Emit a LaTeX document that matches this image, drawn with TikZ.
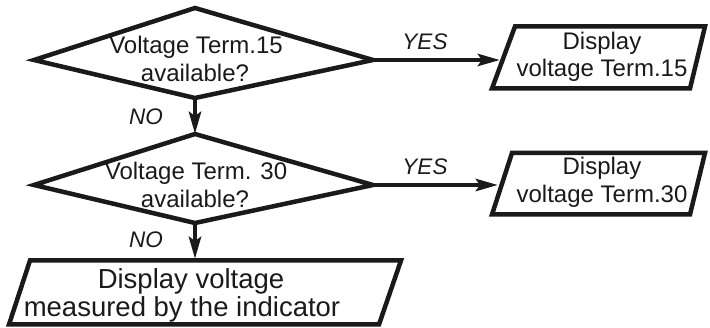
\documentclass[tikz,border=0pt]{standalone}
\usepackage{fontspec}
\setmainfont{Liberation Sans}
\usetikzlibrary{arrows.meta}
\definecolor{ink}{HTML}{1A1A1A}
\begin{document}
\begin{tikzpicture}[x=1pt,y=-1pt,
  outline/.style={line width=4.5pt, draw=ink, line join=miter},
  flow/.style={line width=4.5pt, draw=ink,
    -{Stealth[length=22pt,width=12pt,inset=4pt]}},
  txt/.style={font=\fontsize{24}{28}\selectfont, text=ink, anchor=base, inner sep=0pt},
  bigtxt/.style={font=\fontsize{27.5}{32}\selectfont, text=ink, anchor=base, inner sep=0pt},
  lbl/.style={font=\fontsize{22.5}{27}\selectfont\itshape, text=ink, anchor=base, inner sep=0pt}]
\useasboundingbox (0,0) rectangle (710,328);

% decision 1 corners
\coordinate (d1t) at (195,8);
\coordinate (d1r) at (373,60);
\coordinate (d1b) at (195,98);
\coordinate (d1l) at (34,60);
% decision 2 corners
\coordinate (d2t) at (195,134);
\coordinate (d2r) at (373,185);
\coordinate (d2b) at (195,223);
\coordinate (d2l) at (34,185);
% output box 1
\coordinate (p1tl) at (515,26.5);
\coordinate (p1tr) at (705,26.5);
\coordinate (p1br) at (690,88.5);
\coordinate (p1bl) at (492,88.5);
\coordinate (p1in) at (500,60);
% output box 2
\coordinate (p2tl) at (512,153);
\coordinate (p2tr) at (705,153);
\coordinate (p2br) at (690,214.5);
\coordinate (p2bl) at (492,214.5);
\coordinate (p2in) at (498,185);
% output box 3
\coordinate (p3tl) at (30,260.5);
\coordinate (p3tr) at (401,260.5);
\coordinate (p3br) at (379,324.5);
\coordinate (p3bl) at (9,324.5);
\coordinate (p3in) at (195,259);

% shapes
\draw[outline] (d1t) -- (d1r) -- (d1b) -- (d1l) -- cycle;
\draw[outline] (d2t) -- (d2r) -- (d2b) -- (d2l) -- cycle;
\draw[outline] (p1tl) -- (p1tr) -- (p1br) -- (p1bl) -- cycle;
\draw[outline] (p2tl) -- (p2tr) -- (p2br) -- (p2bl) -- cycle;
\draw[outline] (p3tl) -- (p3tr) -- (p3br) -- (p3bl) -- cycle;

% connectors
\draw[flow] (d1r) -- (p1in);
\draw[flow] (d2r) -- (p2in);
\draw[flow] (d1b) -- (d2t);
\draw[flow] (d2b) -- (p3in);

% texts
\node[txt] (q1a) at (196,54) {Voltage Term.15};
\node[txt] (q1b) at (195,82) {available?};
\node[txt] (q2a) at (196,180) {Voltage Term. 30};
\node[txt] (q2b) at (195,208) {available?};
\node[txt] (o1a) at (602,50) {Display};
\node[txt] (o1b) at (602,77) {voltage Term.15};
\node[txt] (o2a) at (602,175) {Display};
\node[txt] (o2b) at (602,203) {voltage Term.30};
\node[bigtxt] (o3a) at (191,289) {Display voltage};
\node[bigtxt] (o3b) at (182,317) {measured by the indicator};

% branch labels
\node[lbl] (yes1) at (425,50) {YES};
\node[lbl] (yes2) at (425,175) {YES};
\node[lbl] (no1) at (146,125) {NO};
\node[lbl] (no2) at (146,248) {NO};
\end{tikzpicture}
\end{document}
